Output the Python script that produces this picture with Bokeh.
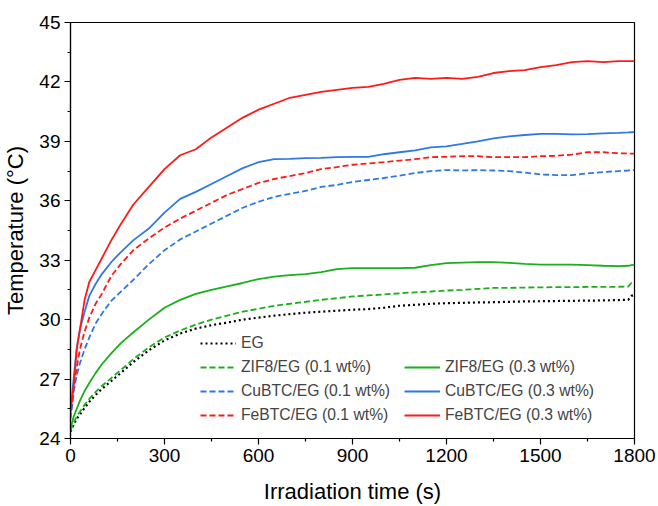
from bokeh.plotting import figure
from bokeh.models import (Range1d, FixedTicker, Legend, LegendItem, ColumnDataSource)
from bokeh.embed import file_html
from bokeh.resources import INLINE

# ---------------- data ----------------
time_s = [0, 5, 10, 20, 30, 45, 60, 80, 100, 130, 160, 200,
          250, 300, 350, 400, 450, 500, 550, 600, 650, 700, 750, 800, 850, 900,
          950, 1000, 1050, 1100, 1150, 1200, 1250, 1300, 1350, 1400, 1450, 1500,
          1550, 1600, 1650, 1700, 1750, 1780, 1790, 1800]

eg = [24.35, 24.5, 24.7, 25.0, 25.2, 25.55, 25.85, 26.2, 26.5, 26.9, 27.3, 27.85,
      28.45, 28.95, 29.3, 29.55, 29.72, 29.85, 30.0, 30.1, 30.2, 30.28, 30.35, 30.4, 30.45, 30.5,
      30.53, 30.6, 30.7, 30.75, 30.8, 30.83, 30.85, 30.87, 30.88, 30.9, 30.92, 30.93,
      30.94, 30.95, 30.96, 30.97, 30.99, 31.0, 31.2, 31.25]

zif8_01 = [24.4, 24.6, 24.8, 25.1, 25.35, 25.7, 26.0, 26.35, 26.65, 27.05, 27.45, 28.0,
           28.6, 29.1, 29.45, 29.75, 30.0, 30.2, 30.4, 30.55, 30.7, 30.8, 30.9, 31.0, 31.08, 31.17,
           31.22, 31.27, 31.33, 31.38, 31.42, 31.47, 31.5, 31.55, 31.6, 31.6, 31.62, 31.63,
           31.64, 31.64, 31.65, 31.65, 31.66, 31.67, 31.85, 31.85]

zif8_03 = [24.5, 24.8, 25.1, 25.5, 25.9, 26.4, 26.8, 27.3, 27.75, 28.3, 28.8, 29.35,
           30.0, 30.6, 31.0, 31.3, 31.5, 31.68, 31.85, 32.05, 32.17, 32.25, 32.3, 32.4, 32.55, 32.6,
           32.6, 32.6, 32.6, 32.62, 32.75, 32.85, 32.88, 32.9, 32.9, 32.87, 32.82, 32.78,
           32.78, 32.78, 32.75, 32.72, 32.7, 32.72, 32.75, 32.77]

cubtc_01 = [25.0, 25.6, 26.4, 27.2, 27.8, 28.5, 29.1, 29.8, 30.3, 30.95, 31.4, 32.0,
            32.8, 33.5, 34.05, 34.45, 34.85, 35.25, 35.65, 35.95, 36.2, 36.35, 36.5, 36.7, 36.8, 36.95,
            37.05, 37.15, 37.27, 37.4, 37.5, 37.55, 37.53, 37.55, 37.53, 37.5, 37.42, 37.33,
            37.3, 37.3, 37.38, 37.45, 37.5, 37.53, 37.55, 37.56]

cubtc_03 = [25.6, 26.2, 27.0, 28.6, 29.5, 30.4, 31.2, 31.8, 32.3, 32.9, 33.4, 34.0,
            34.6, 35.4, 36.1, 36.45, 36.85, 37.25, 37.65, 37.95, 38.1, 38.12, 38.15, 38.17, 38.2, 38.22,
            38.22, 38.35, 38.45, 38.55, 38.7, 38.75, 38.87, 39.0, 39.15, 39.25, 39.32, 39.38,
            39.38, 39.35, 39.37, 39.4, 39.43, 39.45, 39.46, 39.47]

febtc_01 = [25.4, 25.8, 26.5, 27.6, 28.5, 29.4, 30.1, 30.8, 31.3, 32.2, 32.8, 33.5,
            34.1, 34.65, 35.1, 35.5, 35.9, 36.3, 36.6, 36.9, 37.1, 37.25, 37.4, 37.6, 37.7, 37.82,
            37.88, 37.95, 38.03, 38.1, 38.2, 38.22, 38.25, 38.25, 38.2, 38.2, 38.2, 38.25,
            38.27, 38.33, 38.45, 38.45, 38.4, 38.39, 38.38, 38.38]

febtc_03 = [25.3, 26.0, 26.6, 28.5, 29.5, 31.0, 31.9, 32.5, 33.1, 34.0, 34.8, 35.8,
            36.7, 37.6, 38.3, 38.6, 39.2, 39.7, 40.2, 40.6, 40.9, 41.2, 41.35, 41.5, 41.6, 41.7,
            41.75, 41.9, 42.1, 42.2, 42.15, 42.2, 42.15, 42.25, 42.45, 42.55, 42.6, 42.75,
            42.85, 43.0, 43.05, 43.0, 43.05, 43.05, 43.05, 43.05]

x_ticks = [0, 300, 600, 900, 1200, 1500, 1800]
y_ticks = [24, 27, 30, 33, 36, 39, 42, 45]

labels = ["EG", "ZIF8/EG (0.1 wt%)", "ZIF8/EG (0.3 wt%)",
          "CuBTC/EG (0.1 wt%)", "CuBTC/EG (0.3 wt%)",
          "FeBTC/EG (0.1 wt%)", "FeBTC/EG (0.3 wt%)"]

# ---------------- figure ----------------
FONT = "Liberation Sans"
GREEN = "#1cae1c"
BLUE = "#2f78e6"
RED = "#ff1a1a"

p = figure(width=658, height=506, output_backend="svg", toolbar_location=None,
           x_range=Range1d(0, 1800), y_range=Range1d(24, 45),
           min_border_left=68, min_border_right=24, min_border_top=22, min_border_bottom=68)

p.grid.visible = False
p.outline_line_color = "black"
p.outline_line_width = 1.2
p.background_fill_color = "white"
p.border_fill_color = "white"

for ax in (p.xaxis[0], p.yaxis[0]):
    ax.axis_line_width = 1.2
    ax.major_tick_line_width = 1.2
    ax.minor_tick_line_width = 1.2
    ax.major_tick_out = 6
    ax.major_tick_in = 0
    ax.minor_tick_out = 3
    ax.minor_tick_in = 0
    ax.major_label_text_font = FONT
    ax.major_label_text_font_size = "19px"
    ax.major_label_text_color = "black"
    ax.axis_label_text_font = FONT
    ax.axis_label_text_font_size = "22px"
    ax.axis_label_text_font_style = "normal"
    ax.axis_label_text_color = "black"

p.xaxis.ticker = FixedTicker(ticks=x_ticks, minor_ticks=[150 + 300 * i for i in range(6)])
p.yaxis.ticker = FixedTicker(ticks=y_ticks, minor_ticks=[25.5 + 3 * i for i in range(7)])
p.xaxis.axis_label = "Irradiation time (s)"
p.yaxis.axis_label = "Temperature (°C)"
p.xaxis.major_label_standoff = 4
p.yaxis.major_label_standoff = 4
p.xaxis.axis_label_standoff = 14
p.yaxis.axis_label_standoff = 8

src = ColumnDataSource(dict(t=time_s, eg=eg, z1=zif8_01, z3=zif8_03,
                            c1=cubtc_01, c3=cubtc_03, f1=febtc_01, f3=febtc_03))

LW = 1.8
r_eg = p.line("t", "eg", source=src, color="black", line_width=2.2, line_dash="2 3")
r_z1 = p.line("t", "z1", source=src, color=GREEN, line_width=LW, line_dash="6 3")
r_z3 = p.line("t", "z3", source=src, color=GREEN, line_width=LW)
r_c1 = p.line("t", "c1", source=src, color=BLUE, line_width=LW, line_dash="6 3")
r_c3 = p.line("t", "c3", source=src, color=BLUE, line_width=LW)
r_f1 = p.line("t", "f1", source=src, color=RED, line_width=LW, line_dash="6 3")
r_f3 = p.line("t", "f3", source=src, color=RED, line_width=LW)


def make_legend(items, loc):
    lg = Legend(items=items, location=loc, padding=0, margin=0, spacing=4,
                glyph_width=36, glyph_height=20, label_height=20, label_standoff=5,
                label_text_font=FONT, label_text_font_size="15.7px",
                border_line_color=None, background_fill_alpha=0)
    return lg


leg1 = make_legend([LegendItem(label=labels[0], renderers=[r_eg]),
                    LegendItem(label=labels[1], renderers=[r_z1]),
                    LegendItem(label=labels[3], renderers=[r_c1]),
                    LegendItem(label=labels[5], renderers=[r_f1])], (130, 13))
leg2 = make_legend([LegendItem(label=labels[2], renderers=[r_z3]),
                    LegendItem(label=labels[4], renderers=[r_c3]),
                    LegendItem(label=labels[6], renderers=[r_f3])], (334, 13))
p.add_layout(leg1, "center")
p.add_layout(leg2, "center")

open("out.html", "w").write(file_html(p, INLINE))
